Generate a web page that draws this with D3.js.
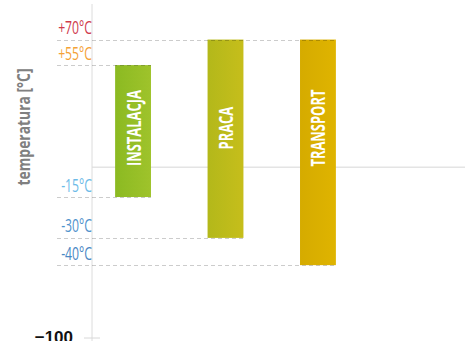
<!DOCTYPE html>
<html><head><meta charset="utf-8">
<script src="https://cdn.jsdelivr.net/npm/d3@7"></script>
<style>
html,body{margin:0;padding:0;background:#fff;overflow:hidden}
svg{display:block}
</style></head><body>
<svg id="c" width="465" height="341"></svg>
<script>
// ---- data ----
const categories = ["INSTALACJA", "PRACA", "TRANSPORT"];
const lowValues  = [-17.5, -41.5, -57.5];
const highValues = [60, 75, 75];
const barColors  = [["#8bba22", "#9fc32b"], ["#b3b81a", "#c6be1b"], ["#d5ab00", "#dfb400"]];
const plotLineValues = [75, 60, -17.5, -41.5, -57.5];
const plotLineLabels = ["+70°C", "+55°C", "-15°C", "-30°C", "-40°C"];
const plotLineColors = ["#cf3a4c", "#f4a236", "#6cbbe8", "#4f92cc", "#4a88c4"];
const plotLineBar    = [2, 0, 0, 1, 2]; // category whose bar the line runs to
const yTicks = [-100];
const yTitle = "temperatura [°C]";

// ---- layout ----
const svg = d3.select("#c");
const y = d3.scaleLinear().domain([-100, 100]).range([337.5, -3]);
const x = d3.scaleBand().domain(categories).range([92, 359]).paddingInner(0.612).paddingOuter(0.25);
const axisX = 92;

const defs = svg.append("defs");
categories.forEach((c, i) => {
  const g = defs.append("linearGradient").attr("id", "g" + i).attr("x1", 0).attr("x2", 1).attr("y1", 0).attr("y2", 0);
  g.append("stop").attr("offset", 0).attr("stop-color", barColors[i][0]);
  g.append("stop").attr("offset", 1).attr("stop-color", barColors[i][1]);
});

// zero gridline
svg.append("line").attr("x1", axisX).attr("x2", 465).attr("y1", y(0)).attr("y2", y(0))
  .attr("stroke", "#e4e4e4").attr("stroke-width", 1.5);

// axis line
svg.append("line").attr("x1", axisX).attr("x2", axisX).attr("y1", 4).attr("y2", 341)
  .attr("stroke", "#dcdcdc").attr("stroke-width", 1);

// y axis ticks
const yAxis = d3.axisLeft(y).tickValues(yTicks).tickSize(8).tickFormat(d3.format("d"));
const ax = svg.append("g").attr("transform", `translate(${axisX},0)`).call(yAxis);
ax.select(".domain").remove();
ax.selectAll(".tick line").attr("stroke", "#d8d8d8").attr("x2", 8).attr("x1", -8);
ax.selectAll(".tick text").attr("x", -19).attr("dy", "0.3em")
  .attr("font-family", "'Liberation Sans', Arial, sans-serif").attr("font-weight", "bold")
  .attr("font-size", 17).attr("fill", "#111");

// bars
svg.append("g").selectAll("rect").data(categories).join("rect")
  .attr("x", d => x(d)).attr("width", x.bandwidth())
  .attr("y", (d, i) => y(highValues[i]))
  .attr("height", (d, i) => y(lowValues[i]) - y(highValues[i]))
  .attr("fill", (d, i) => `url(#g${i})`);

// plot lines
svg.append("g").selectAll("line").data(plotLineValues).join("line")
  .attr("x1", 57).attr("x2", (d, i) => x(categories[plotLineBar[i]]) + x.bandwidth())
  .attr("y1", d => Math.round(y(d)) + 0.5).attr("y2", d => Math.round(y(d)) + 0.5)
  .attr("stroke", "rgba(0,0,0,0.2)").attr("stroke-width", 1).attr("stroke-dasharray", "4,3");

function squeeze(sel, f) {
  sel.each(function () {
    const L = this.getComputedTextLength();
    d3.select(this).attr("textLength", L * f).attr("lengthAdjust", "spacingAndGlyphs");
  });
}

// plot line labels
svg.append("g").selectAll("text").data(plotLineValues).join("text")
  .attr("x", 92).attr("y", d => y(d) - 5.5)
  .attr("text-anchor", "end")
  .attr("font-family", "'Open Sans', sans-serif").attr("font-weight", 400)
  .attr("font-size", 18.5)
  .attr("fill", (d, i) => plotLineColors[i])
  .text((d, i) => plotLineLabels[i])
  .call(squeeze, 0.66);

// bar labels
svg.append("g").selectAll("text").data(categories).join("text")
  .attr("transform", d => `translate(${x(d) + x.bandwidth() / 2 + 7.5},${y(23)}) rotate(-90)`)
  .attr("text-anchor", "middle")
  .attr("font-family", "'Open Sans', sans-serif").attr("font-weight", 700)
  .attr("font-size", 19).attr("fill", "#fff")
  .text(d => d)
  .call(squeeze, 0.68);

// y title
svg.append("text")
  .attr("transform", `translate(30,127) rotate(-90)`)
  .attr("text-anchor", "middle")
  .attr("font-family", "'Open Sans', sans-serif").attr("font-weight", 700)
  .attr("font-size", 18).attr("fill", "#808080")
  .text(yTitle)
  .each(function () {
    d3.select(this).attr("textLength", 117).attr("lengthAdjust", "spacingAndGlyphs");
  });
</script>
</body></html>
